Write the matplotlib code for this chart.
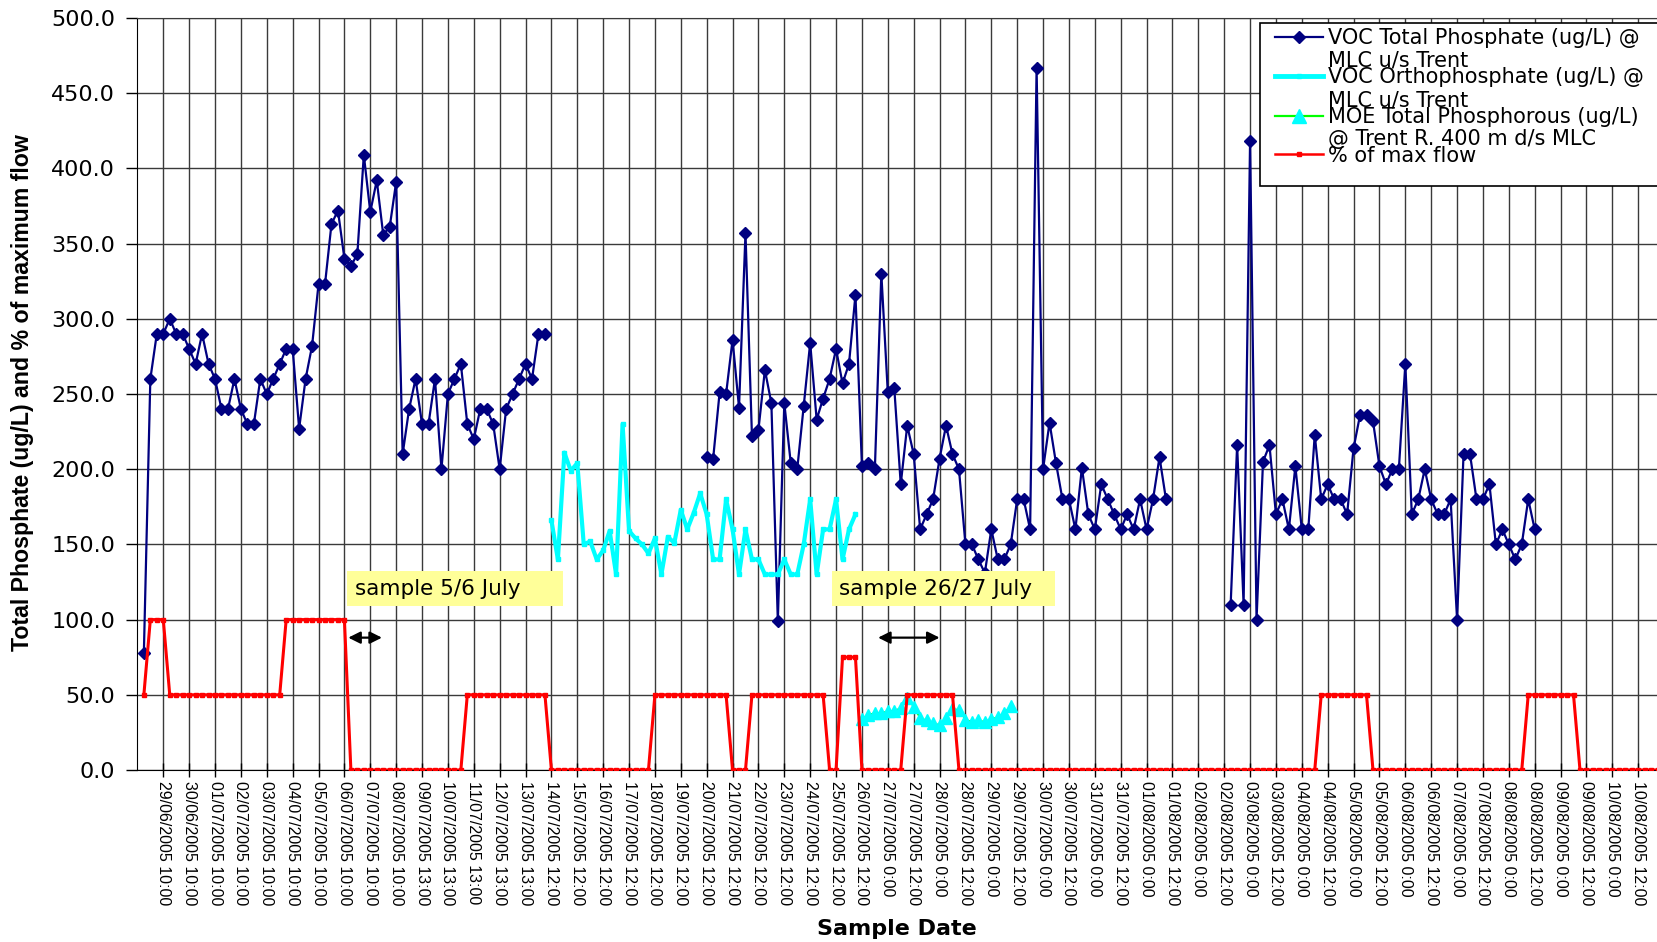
import numpy as np
import matplotlib
matplotlib.use("Agg")
import matplotlib.pyplot as plt
from matplotlib.patches import Rectangle
from matplotlib.lines import Line2D

plt.rcParams['font.family'] = ['DejaVu Sans']

# ---------------- data ----------------
tick_labels = [
    "29/06/2005 10:00", "30/06/2005 10:00", "01/07/2005 10:00", "02/07/2005 10:00",
    "03/07/2005 10:00", "04/07/2005 10:00", "05/07/2005 10:00", "06/07/2005 10:00",
    "07/07/2005 10:00", "08/07/2005 10:00", "09/07/2005 13:00", "10/07/2005 13:00",
    "11/07/2005 13:00", "12/07/2005 13:00", "13/07/2005 13:00", "14/07/2005 12:00",
    "15/07/2005 12:00", "16/07/2005 12:00", "17/07/2005 12:00", "18/07/2005 12:00",
    "19/07/2005 12:00", "20/07/2005 12:00", "21/07/2005 12:00", "22/07/2005 12:00",
    "23/07/2005 12:00", "24/07/2005 12:00", "25/07/2005 12:00", "26/07/2005 12:00",
    "27/07/2005 0:00", "27/07/2005 12:00", "28/07/2005 0:00", "28/07/2005 12:00",
    "29/07/2005 0:00", "29/07/2005 12:00", "30/07/2005 0:00", "30/07/2005 12:00",
    "31/07/2005 0:00", "31/07/2005 12:00", "01/08/2005 0:00", "01/08/2005 12:00",
    "02/08/2005 0:00", "02/08/2005 12:00", "03/08/2005 0:00", "03/08/2005 12:00",
    "04/08/2005 0:00", "04/08/2005 12:00", "05/08/2005 0:00", "05/08/2005 12:00",
    "06/08/2005 0:00", "06/08/2005 12:00", "07/08/2005 0:00", "07/08/2005 12:00",
    "08/08/2005 0:00", "08/08/2005 12:00", "09/08/2005 0:00", "09/08/2005 12:00",
    "10/08/2005 0:00", "10/08/2005 12:00",
]
n_categories = 236          # number of sample slots on the category axis
label_every = 4             # one labelled gridline every 4 categories

# VOC Total Phosphate (ug/L) @ MLC u/s Trent, in three sampled runs
voc_tp_run1_start = 1
voc_tp_run1 = [78, 260, 290, 290, 300, 290, 290, 280, 270, 290, 270, 260, 240, 240,
               260, 240, 230, 230, 260, 250, 260, 270, 280, 280, 227, 260, 282, 323,
               323, 363, 372, 340, 335, 343, 409, 371, 392, 356, 361, 391, 210, 240,
               260, 230, 230, 260, 200, 250, 260, 270, 230, 220, 240, 240, 230, 200,
               240, 250, 260, 270, 260, 290, 290]
voc_tp_run2_start = 88
voc_tp_run2 = [208, 207, 251, 250, 286, 241, 357, 222, 226, 266, 244, 99, 244, 204,
               200, 242, 284, 233, 247, 260, 280, 257, 270, 316, 202, 204, 200, 330,
               251, 254, 190, 229, 210, 160, 170, 180, 207, 229, 210, 200, 150, 150,
               140, 131, 160, 140, 140, 150, 180, 180, 160, 467, 200, 231, 204, 180,
               180, 160, 201, 170, 160, 190, 180, 170, 160, 170, 160, 180, 160, 180,
               208, 180]
voc_tp_run3_start = 169
voc_tp_run3 = [110, 216, 110, 418, 100, 205, 216, 170, 180, 160, 202, 160, 160, 223,
               180, 190, 180, 180, 170, 214, 236, 236, 232, 202, 190, 200, 200, 270,
               170, 180, 200, 180, 170, 170, 180, 100, 210, 210, 180, 180, 190, 150,
               160, 150, 140, 150, 180, 160]

# VOC Orthophosphate (ug/L) @ MLC u/s Trent
voc_op_start = 64
voc_op = [166, 140, 211, 199, 204, 150, 152, 140, 146, 159, 130, 230, 159, 154, 150,
          144, 154, 130, 155, 151, 173, 160, 171, 184, 170, 140, 140, 180, 160, 130,
          160, 140, 140, 130, 130, 130, 140, 130, 130, 150, 180, 130, 160, 160, 180,
          140, 160, 170]

# MOE Total Phosphorous (ug/L) @ Trent R. 400 m d/s MLC
moe_start = 112
moe_tp = [34, 36.5, 38, 38, 39, 39.5, 41, 48, 42, 34.5, 33, 31, 30, 34.5, 40.5, 40,
          33.5, 32, 33, 32, 34, 35, 38, 42.5]

# % of max flow, as (level, number of consecutive samples) starting at category 1
flow_levels = [50, 100, 50, 100, 0, 50, 0, 50, 0, 50, 0, 75, 0, 50, 0, 50, 0, 50, 0]
flow_run_lengths = [1, 3, 18, 10, 18, 13, 16, 12, 3, 12, 2, 3, 7, 8, 56, 8, 24, 8, 14]

annotations = ["sample 5/6 July", "sample 26/27 July"]

legend_lines = [
    ["VOC Total Phosphate (ug/L) @", "MLC u/s Trent"],
    ["VOC Orthophosphate (ug/L) @", "MLC u/s Trent"],
    ["MOE Total Phosphorous (ug/L)", "@ Trent R. 400 m d/s MLC"],
    ["% of max flow"],
]

# ---------------- build category-indexed series ----------------
cats = np.arange(n_categories + 1)


def series_from(runs):
    s = np.full(n_categories + 1, np.nan)
    for start, vals in runs:
        s[start:start + len(vals)] = vals
    return s


voc_tp = series_from([(voc_tp_run1_start, voc_tp_run1),
                      (voc_tp_run2_start, voc_tp_run2),
                      (voc_tp_run3_start, voc_tp_run3)])
voc_ortho = series_from([(voc_op_start, voc_op)])
moe = series_from([(moe_start, moe_tp)])
flow = series_from([(1, np.repeat(flow_levels, flow_run_lengths))])

# ---------------- figure ----------------
W, H = 1658, 942
fig = plt.figure(figsize=(W / 100, H / 100), dpi=100)
fig.patch.set_facecolor('white')


def fx(px):
    return px / W


def fy(py):
    return 1 - py / H


px_per_cat = 6.469
xmax = 236.5
ax_left, ax_top, ax_bottom = 137.4, 18, 770
ax = fig.add_axes([fx(ax_left), fy(ax_bottom), (xmax * px_per_cat) / W,
                   (ax_bottom - ax_top) / H])

navy = '#000080'
ax.plot(cats, voc_tp, color=navy, lw=1.6, marker='D', ms=6.2,
        mfc=navy, mec=navy, zorder=3)
ax.plot(cats, voc_ortho, color='#00FFFF', lw=3.0, marker='s', ms=2.5,
        mfc='#00FFFF', mec='#00FFFF', zorder=3)
ax.plot(cats, moe, color='#00FF00', lw=1.2, marker='^', ms=8,
        mfc='#00FFFF', mec='#00FFFF', zorder=3)
ax.plot(cats, flow, color='#FF0000', lw=2.2, marker='s', ms=3.2,
        mfc='#FF0000', mec='#FF0000', zorder=4)

ax.set_xlim(0, xmax)
ax.set_ylim(0, 500)

xt = np.arange(label_every, label_every * len(tick_labels) + 1, label_every)
ax.set_xticks(xt)
ax.set_xticklabels(tick_labels, rotation=270, fontsize=11.5,
                   family=['Liberation Sans', 'DejaVu Sans'])
ax.set_yticks(np.arange(0, 501, 50))
ax.set_yticklabels([f"{v:.1f}" for v in np.arange(0, 501, 50)], fontsize=16)

ax.tick_params(axis='x', direction='inout', length=10, width=1, pad=3, colors='black')
ax.tick_params(axis='y', direction='out', length=8, width=1, pad=8, colors='black')

ax.set_axisbelow(True)
ax.grid(True, color='#3a3a3a', lw=1.0)
for side in ['right']:
    ax.spines[side].set_visible(False)
ax.spines['top'].set_color('#3a3a3a')
ax.spines['left'].set_color('black')
ax.spines['bottom'].set_color('black')

# annotation boxes
ax.add_patch(Rectangle((32.4, 109), 65.8 - 32.4, 132 - 109, fc='#FFFF99', ec='none', zorder=6))
ax.text(33.7, 120.5, annotations[0], fontsize=15.5, va='center', ha='left', zorder=7)
ax.add_patch(Rectangle((107.4, 109), 141.8 - 107.4, 132 - 109, fc='#FFFF99', ec='none', zorder=6))
ax.text(108.4, 120.5, annotations[1], fontsize=15.5, va='center', ha='left', zorder=7)

for x0, x1 in [(32.6, 37.8), (114.5, 124.0)]:
    ax.annotate('', xy=(x1, 88), xytext=(x0, 88),
                arrowprops=dict(arrowstyle='<|-|>', color='black', lw=1.6,
                                mutation_scale=18, shrinkA=0, shrinkB=0),
                zorder=7)

# axis titles
fig.text(fx(897), fy(929), 'Sample Date', fontsize=16, fontweight='bold',
         ha='center', va='center')
fig.text(fx(23), fy(393), 'Total Phosphate (ug/L) and % of maximum flow',
         fontsize=16.7, fontweight='bold', rotation=90, ha='center', va='center',
         family=['Liberation Sans', 'DejaVu Sans'])

# legend (drawn manually to mimic the wrapped Excel legend)
fig.add_artist(Rectangle((fx(1260), fy(186)), fx(1720) - fx(1260), (186 - 23) / H,
                         transform=fig.transFigure, fc='white', ec='black', lw=1.2,
                         zorder=10))
handle_y = [36.7, 76, 116, 154.3]
baselines = [[44, 66], [83.3, 106], [123.3, 145], [161.7]]
styles = [
    dict(color=navy, lw=1.6, marker='D', ms=6.2, mfc=navy, mec=navy),
    dict(color='#00FFFF', lw=3.5, marker='s', ms=2.5, mfc='#00FFFF', mec='#00FFFF'),
    dict(color='#00FF00', lw=1.6, marker='^', ms=10, mfc='#00FFFF', mec='#00FFFF'),
    dict(color='#FF0000', lw=1.8, marker='s', ms=3.5, mfc='#FF0000', mec='#FF0000'),
]
for hy, st, lines, bls in zip(handle_y, styles, legend_lines, baselines):
    lw_kw = {k: v for k, v in st.items() if k in ('color', 'lw')}
    fig.add_artist(Line2D([fx(1275), fx(1323)], [fy(hy), fy(hy)],
                          transform=fig.transFigure, zorder=11, **lw_kw))
    fig.add_artist(Line2D([fx(1299)], [fy(hy)], transform=fig.transFigure,
                          zorder=12, ls='none', marker=st['marker'], ms=st['ms'],
                          mfc=st['mfc'], mec=st['mec']))
    for txt, bl in zip(lines, bls):
        t = fig.text(fx(1328), fy(bl), txt, fontsize=15, va='baseline', ha='left')
        t.set_zorder(12)

fig.savefig('out.png', dpi=100, facecolor='white')
